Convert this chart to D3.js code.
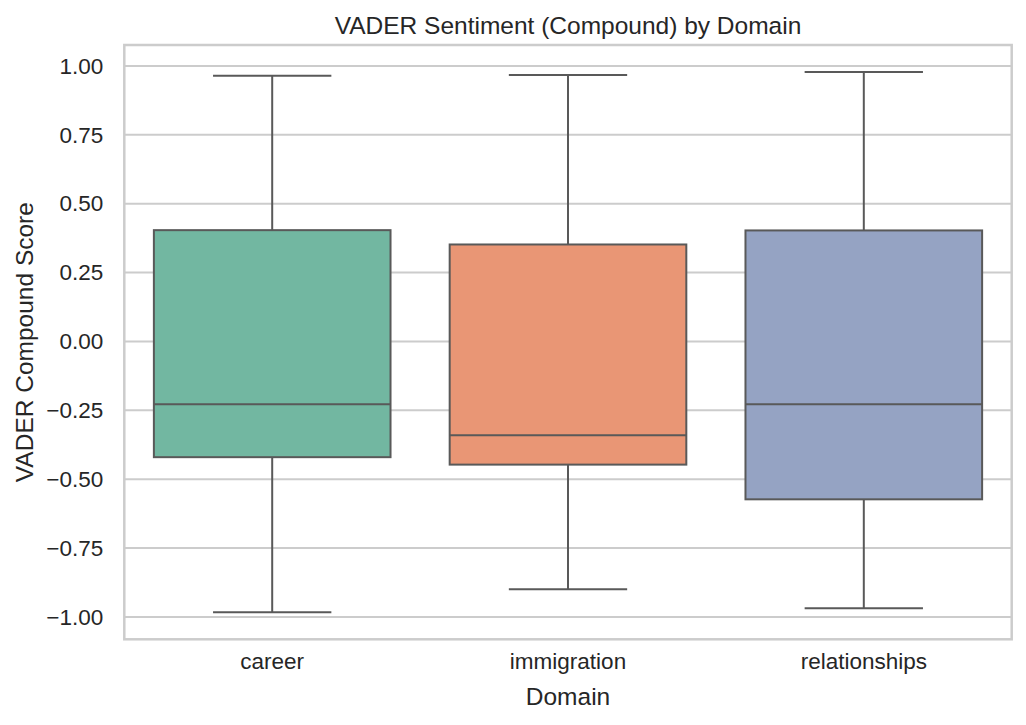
<!DOCTYPE html>
<html>
<head>
<meta charset="utf-8">
<script src="https://cdn.jsdelivr.net/npm/d3@7"></script>
<style>
  html, body { margin: 0; padding: 0; background: #fff; }
  svg { display: block; }
  text { font-family: "Liberation Sans", Arial, sans-serif; fill: #262626; }
</style>
</head>
<body>
<svg id="chart" width="1026" height="725"></svg>
<script>
// Data
const categories = ["career", "immigration", "relationships"];
const lowerWhisker = [-0.983, -0.899, -0.968];
const q1Values     = [-0.420, -0.447, -0.573];
const medians      = [-0.228, -0.340, -0.228];
const q3Values     = [0.404, 0.352, 0.403];
const upperWhisker = [0.964, 0.967, 0.978];
const boxColors    = ["#72b7a1", "#e99675", "#95a3c3"];
const yTicks       = [-1.00, -0.75, -0.50, -0.25, 0.00, 0.25, 0.50, 0.75, 1.00];
const chartTitle  = "VADER Sentiment (Compound) by Domain";
const xLabel = "Domain";
const yLabel = "VADER Compound Score";

(function () {
const svg = d3.select("#chart");
const pLeft = 124.3, pRight = 1011.7, pTop = 45, pBottom = 639.3;

const dmin = d3.min(lowerWhisker), dmax = d3.max(upperWhisker);
const pad = (dmax - dmin) * 0.05;
const y = d3.scaleLinear().domain([dmin - pad, dmax + pad]).range([pBottom, pTop]);
const x = d3.scaleBand().domain(categories).range([pLeft, pRight]).paddingInner(0).paddingOuter(0);

const lineColor = "#595959";
const tickFmt = v => (v < 0 ? "\u2212" : "") + Math.abs(v).toFixed(2);

// grid lines
svg.append("g").selectAll("line").data(yTicks).join("line")
  .attr("x1", pLeft).attr("x2", pRight)
  .attr("y1", d => y(d)).attr("y2", d => y(d))
  .attr("stroke", "#cccccc").attr("stroke-width", 2);

// y axis labels
const yAxis = d3.axisLeft(y).tickValues(yTicks).tickFormat(tickFmt).tickSize(0).tickPadding(21);
const yg = svg.append("g").attr("transform", `translate(${pLeft},0)`).call(yAxis);
yg.select(".domain").remove();
yg.selectAll("text").attr("font-size", 22.5).attr("fill", "#262626")
  .attr("font-family", '"Liberation Sans", Arial, sans-serif');

// x axis labels
const xAxis = d3.axisBottom(x).tickSize(0).tickPadding(14);
const xg = svg.append("g").attr("transform", `translate(0,${pBottom})`).call(xAxis);
xg.select(".domain").remove();
xg.selectAll("text").attr("font-size", 22.5).attr("fill", "#262626")
  .attr("font-family", '"Liberation Sans", Arial, sans-serif');

// boxes
const bw = x.bandwidth() * 0.8;
const capW = bw * 0.5;
const g = svg.append("g");
categories.forEach((c, i) => {
  const cx = x(c) + x.bandwidth() / 2;
  g.append("line").attr("x1", cx).attr("x2", cx)
    .attr("y1", y(q3Values[i])).attr("y2", y(upperWhisker[i]))
    .attr("stroke", lineColor).attr("stroke-width", 2);
  g.append("line").attr("x1", cx).attr("x2", cx)
    .attr("y1", y(q1Values[i])).attr("y2", y(lowerWhisker[i]))
    .attr("stroke", lineColor).attr("stroke-width", 2);
  g.append("line").attr("x1", cx - capW / 2).attr("x2", cx + capW / 2)
    .attr("y1", y(upperWhisker[i])).attr("y2", y(upperWhisker[i]))
    .attr("stroke", lineColor).attr("stroke-width", 2);
  g.append("line").attr("x1", cx - capW / 2).attr("x2", cx + capW / 2)
    .attr("y1", y(lowerWhisker[i])).attr("y2", y(lowerWhisker[i]))
    .attr("stroke", lineColor).attr("stroke-width", 2);
  g.append("rect").attr("x", cx - bw / 2).attr("width", bw)
    .attr("y", y(q3Values[i])).attr("height", y(q1Values[i]) - y(q3Values[i]))
    .attr("fill", boxColors[i]).attr("stroke", lineColor).attr("stroke-width", 2);
  g.append("line").attr("x1", cx - bw / 2).attr("x2", cx + bw / 2)
    .attr("y1", y(medians[i])).attr("y2", y(medians[i]))
    .attr("stroke", lineColor).attr("stroke-width", 2);
});

// frame (spines)
svg.append("rect").attr("x", pLeft).attr("y", pTop)
  .attr("width", pRight - pLeft).attr("height", pBottom - pTop)
  .attr("fill", "none").attr("stroke", "#cccccc").attr("stroke-width", 2.5);

svg.append("text").attr("x", (pLeft + pRight) / 2).attr("y", 34)
  .attr("text-anchor", "middle").attr("font-size", 24.5).text(chartTitle);
svg.append("text").attr("x", (pLeft + pRight) / 2).attr("y", 705)
  .attr("text-anchor", "middle").attr("font-size", 24.5).text(xLabel);
svg.append("text").attr("transform", `translate(33,${(pTop + pBottom) / 2}) rotate(-90)`)
  .attr("text-anchor", "middle").attr("font-size", 24.5).text(yLabel);
})();
</script>
</body>
</html>
